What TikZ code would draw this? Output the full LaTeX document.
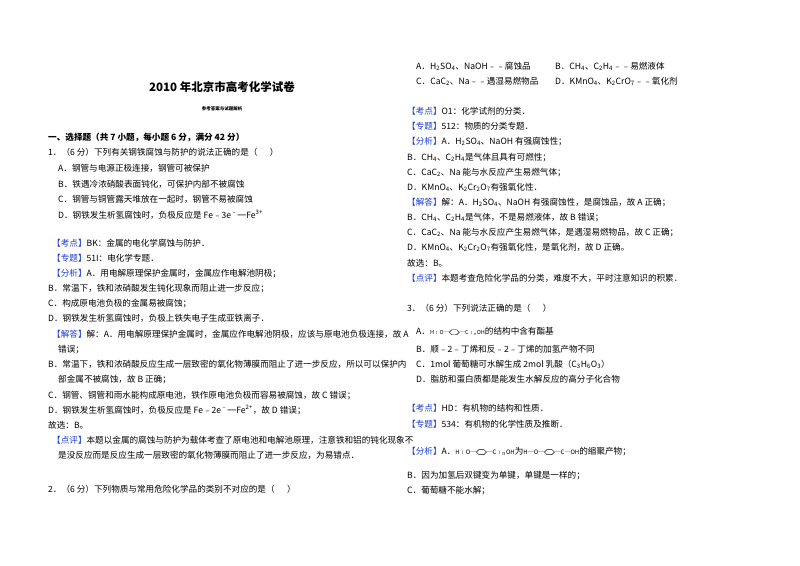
\documentclass[tikz,border=0pt]{standalone}
\usepackage{fontspec}
\setmainfont{Noto Sans CJK SC}
\definecolor{kblue}{RGB}{30,60,210}
\newcommand\kw[1]{{\color{kblue}【#1】}}
\newcommand\sub[1]{\textsubscript{#1}}
\newcommand\hexa{\tikz[baseline=-0.6ex,x=1pt,y=1pt,line width=0.4pt]\draw (-5,0)--(-2.5,2.5)--(2.5,2.5)--(5,0)--(2.5,-2.5)--(-2.5,-2.5)--cycle;}
\newcommand\T[4]{\node[txt] (#1) at (#2pt,-#3pt) {#4};}
\tikzset{txt/.style={anchor=base west,inner sep=0pt,font=\fontsize{8.6pt}{10pt}\selectfont}}
\begin{document}
\begin{tikzpicture}[x=1pt,y=1pt]
\useasboundingbox[fill=white] (0,0) rectangle (800,-565);
% title
\node[anchor=base,inner sep=0pt,font=\fontsize{11.5pt}{13pt}\selectfont\bfseries] (title) at (222,-91) {2010 年北京市高考化学试卷};
\node[anchor=base,inner sep=0pt,font=\fontsize{4.5pt}{5pt}\selectfont\bfseries] (sub) at (222,-110) {参考答案与试题解析};
\node[txt,font=\fontsize{8.6pt}{10pt}\selectfont\bfseries] (sec) at (48,-140) {一、选择题（共 7 小题，每小题 6 分，满分 42 分）};
\T{q1}{48}{155}{1．（6 分）下列有关钢铁腐蚀与防护的说法正确的是（\quad\ \ ）}
\T{q1a}{58}{171}{A．钢管与电源正极连接，钢管可被保护}
\T{q1b}{58}{187}{B．铁遇冷浓硝酸表面钝化，可保护内部不被腐蚀}
\T{q1c}{58}{202}{C．钢管与铜管露天堆放在一起时，钢管不易被腐蚀}
\T{q1d}{58}{218}{D．钢铁发生析氢腐蚀时，负极反应是 Fe﹣3e\textsuperscript{﹣}═Fe\textsuperscript{3+}}
\T{k1}{52}{246}{\kw{考点}BK：金属的电化学腐蚀与防护．}
\T{z1}{52}{261}{\kw{专题}51I：电化学专题．}
\T{f1}{52}{276}{\kw{分析}A．用电解原理保护金属时，金属应作电解池阴极；}
\T{f1b}{48}{291}{B．常温下，铁和浓硝酸发生钝化现象而阻止进一步反应；}
\T{f1c}{48}{306}{C．构成原电池负极的金属易被腐蚀；}
\T{f1d}{48}{321}{D．钢铁发生析氢腐蚀时，负极上铁失电子生成亚铁离子．}
\T{j1}{52}{337}{\kw{解答}解：A．用电解原理保护金属时，金属应作电解池阴极，应该与原电池负极连接，故 A}
\T{j1a}{58}{352}{错误；}
\T{j1b}{48}{367}{B．常温下，铁和浓硝酸反应生成一层致密的氧化物薄膜而阻止了进一步反应，所以可以保护内}
\T{j1b2}{58}{382}{部金属不被腐蚀，故 B 正确；}
\T{j1c}{48}{398}{C．钢管、铜管和雨水能构成原电池，铁作原电池负极而容易被腐蚀，故 C 错误；}
\T{j1d}{48}{413}{D．钢铁发生析氢腐蚀时，负极反应是 Fe﹣2e\textsuperscript{﹣}═Fe\textsuperscript{2+}，故 D 错误；}
\T{g1}{48}{428}{故选：B。}
\T{d1}{52}{443}{\kw{点评}本题以金属的腐蚀与防护为载体考查了原电池和电解池原理，注意铁和铝的钝化现象不}
\T{d1b}{58}{458}{是没反应而是反应生成一层致密的氧化物薄膜而阻止了进一步反应，为易错点．}
\T{q2}{48}{492}{2．（6 分）下列物质与常用危险化学品的类别不对应的是（\quad\ \ ）}
% right column
\T{q2a}{416}{69}{A．H\sub2SO\sub4、NaOH﹣﹣腐蚀品}
\T{q2b}{555}{69}{B．CH\sub4、C\sub2H\sub4﹣﹣易燃液体}
\T{q2c}{416}{84}{C．CaC\sub2、Na﹣﹣遇湿易燃物品}
\T{q2d}{555}{84}{D．KMnO\sub4、K\sub2CrO\sub7﹣﹣氧化剂}
\T{k2}{407}{114}{\kw{考点}O1：化学试剂的分类．}
\T{z2}{407}{129}{\kw{专题}512：物质的分类专题．}
\T{f2}{407}{144}{\kw{分析}A．H\sub2SO\sub4、NaOH 有强腐蚀性；}
\T{f2b}{407}{160}{B．CH\sub4、C\sub2H\sub4是气体且具有可燃性；}
\T{f2c}{407}{175}{C．CaC\sub2、Na 能与水反应产生易燃气体；}
\T{f2d}{407}{190}{D．KMnO\sub4、K\sub2Cr\sub2O\sub7有强氧化性．}
\T{j2}{407}{205}{\kw{解答}解：A．H\sub2SO\sub4、NaOH 有强腐蚀性，是腐蚀品，故 A 正确；}
\T{j2b}{407}{220}{B．CH\sub4、C\sub2H\sub4是气体，不是易燃液体，故 B 错误；}
\T{j2c}{407}{235}{C．CaC\sub2、Na 能与水反应产生易燃气体，是遇湿易燃物品，故 C 正确；}
\T{j2d}{407}{250}{D．KMnO\sub4、K\sub2Cr\sub2O\sub7有强氧化性，是氧化剂，故 D 正确。}
\T{g2}{407}{266}{故选：B。}
\T{d2}{407}{281}{\kw{点评}本题考查危险化学品的分类，难度不大，平时注意知识的积累．}
\T{q3}{407}{311}{3．（6 分）下列说法正确的是（\quad\ \ ）}
\T{q3a}{416}{334}{A．{\fontsize{5.5pt}{6pt}\selectfont H﹝O─\hexa─C﹞\textsubscript{n}OH}的结构中含有酯基}
\T{q3b}{416}{352}{B．顺﹣2﹣丁烯和反﹣2﹣丁烯的加氢产物不同}
\T{q3c}{416}{367}{C．1mol 葡萄糖可水解生成 2mol 乳酸（C\sub3H\sub6O\sub3）}
\T{q3d}{416}{382}{D．脂肪和蛋白质都是能发生水解反应的高分子化合物}
\T{k3}{407}{411}{\kw{考点}HD：有机物的结构和性质．}
\T{z3}{407}{427}{\kw{专题}534：有机物的化学性质及推断．}
\T{f3}{407}{454}{\kw{分析}A．{\fontsize{6pt}{7pt}\selectfont H﹝O─\hexa─C﹞\textsubscript{n}OH}为{\fontsize{6pt}{7pt}\selectfont H─O─\hexa─C─OH}的缩聚产物；}
\T{f3b}{407}{478}{B．因为加氢后双键变为单键，单键是一样的；}
\T{f3c}{407}{493}{C．葡萄糖不能水解；}
\end{tikzpicture}
\end{document}
